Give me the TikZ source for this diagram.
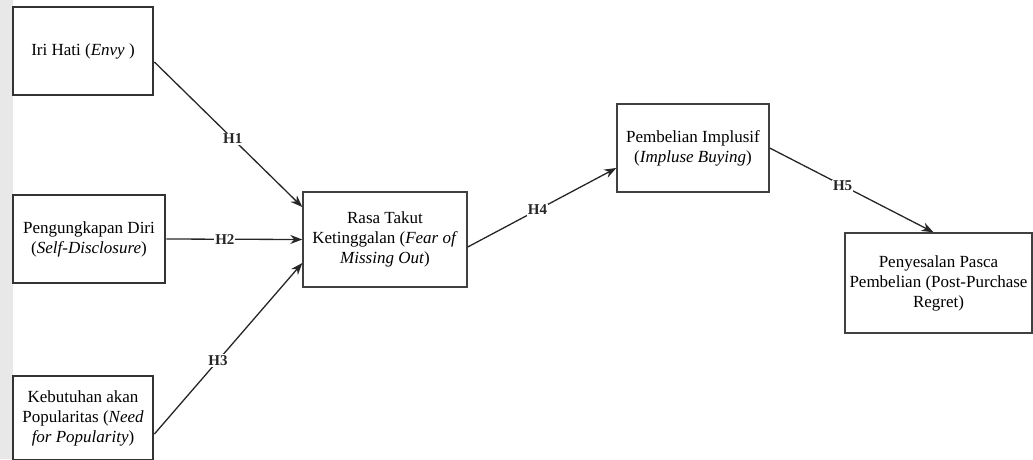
\documentclass[tikz,border=0pt]{standalone}
\usepackage{fontspec}
\setmainfont{Liberation Serif}
\usetikzlibrary{arrows.meta}
\begin{document}
\begin{tikzpicture}[x=1pt,y=-1pt,
  thickbox/.style={draw=black!80,line width=2.8pt,fill=white,align=center,font=\fontsize{17}{20}\selectfont,inner sep=2pt},
  thinbox/.style={draw=black!75,line width=1.4pt,fill=white,align=center,font=\fontsize{17}{20}\selectfont,inner sep=2pt},
  conn/.style={draw=black!85,line width=1.3pt,-{Stealth[length=12pt,width=9pt]}},
  hlab/.style={fill=white,inner sep=1pt,font=\fontsize{15}{17}\selectfont\bfseries,text=black!85}]
\useasboundingbox (0,0) rectangle (1033,459);
\fill[black!9] (0,0) rectangle (13,459);
\node[thickbox,minimum width=140pt,minimum height=88pt] (b1) at (83,51) {Iri Hati (\textit{Envy} )};
\node[thickbox,minimum width=152pt,minimum height=88pt] (b2) at (89,239) {Pengungkapan Diri\\(\textit{Self-Disclosure})};
\node[thickbox,minimum width=140pt,minimum height=84pt] (b3) at (83,418) {Kebutuhan akan\\Popularitas (\textit{Need}\\\textit{for Popularity})};
\node[thinbox,minimum width=164pt,minimum height=95pt] (fomo) at (385,239.5) {Rasa Takut\\Ketinggalan (\textit{Fear of}\\\textit{Missing Out})};
\node[thinbox,minimum width=152pt,minimum height=88pt] (ib) at (693,148) {Pembelian Implusif\\(\textit{Impluse Buying})};
\node[thinbox,minimum width=187pt,minimum height=100pt] (rg) at (938.5,283) {Penyesalan Pasca\\Pembelian (Post-Purchase\\Regret)};
\draw[conn] ([yshift=-11pt]b1.east) -- node[hlab,pos=0.53] (h1) {H1} ([yshift=32.5pt]fomo.west);
\draw[conn] (b2.east) -- node[hlab,pos=0.43] (h2) {H2} (fomo.west);
\draw[conn] ([yshift=-16pt]b3.east) -- node[hlab,pos=0.43] (h3) {H3} ([yshift=-23.5pt]fomo.west);
\draw[conn] ([yshift=-7.5pt]fomo.east) -- node[hlab,pos=0.47] (h4) {H4} ([yshift=-20pt]ib.west);
\draw[conn] (ib.east) -- node[hlab,pos=0.445] (h5) {H5} ([xshift=-5pt]rg.north);
\end{tikzpicture}
\end{document}
